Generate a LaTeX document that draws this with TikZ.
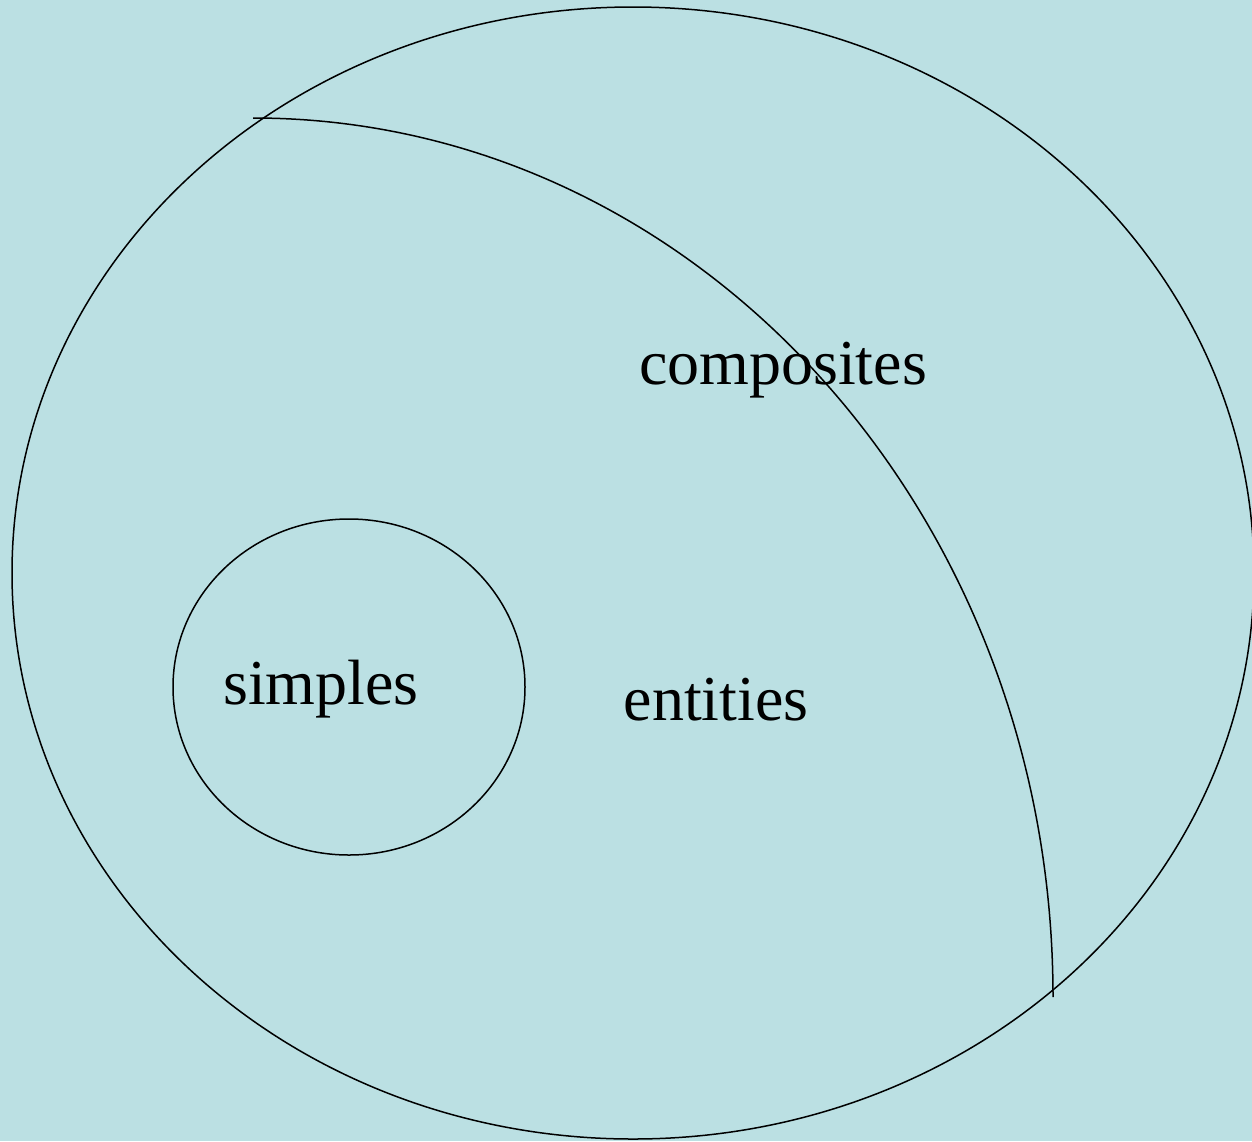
\documentclass[tikz,border=0pt]{standalone}
\usepackage{fontspec}
\setmainfont{Liberation Serif}
\definecolor{bgc}{HTML}{BBE0E3}
\begin{document}
\begin{tikzpicture}[x=1pt,y=-1pt,
  outline/.style={draw=black,line width=1.5pt},
  lbl/.style={inner sep=0pt,font=\fontsize{64}{76}\selectfont}]
\fill[bgc] (0,0) rectangle (1252,1141);
\useasboundingbox (0,0) rectangle (1252,1141);
\draw[outline] (633,573) ellipse [x radius=621pt, y radius=566pt];
\draw[outline] (349,687) ellipse [x radius=176pt, y radius=168pt];
\draw[outline] (253,118) arc[start angle=90, end angle=0, x radius=800pt, y radius=879pt];
\node[lbl] (composites) at (783,370) {composites};
\node[lbl] (entities) at (716,700) {entities};
\node[lbl] (simples) at (321,689) {simples};
\end{tikzpicture}
\end{document}
